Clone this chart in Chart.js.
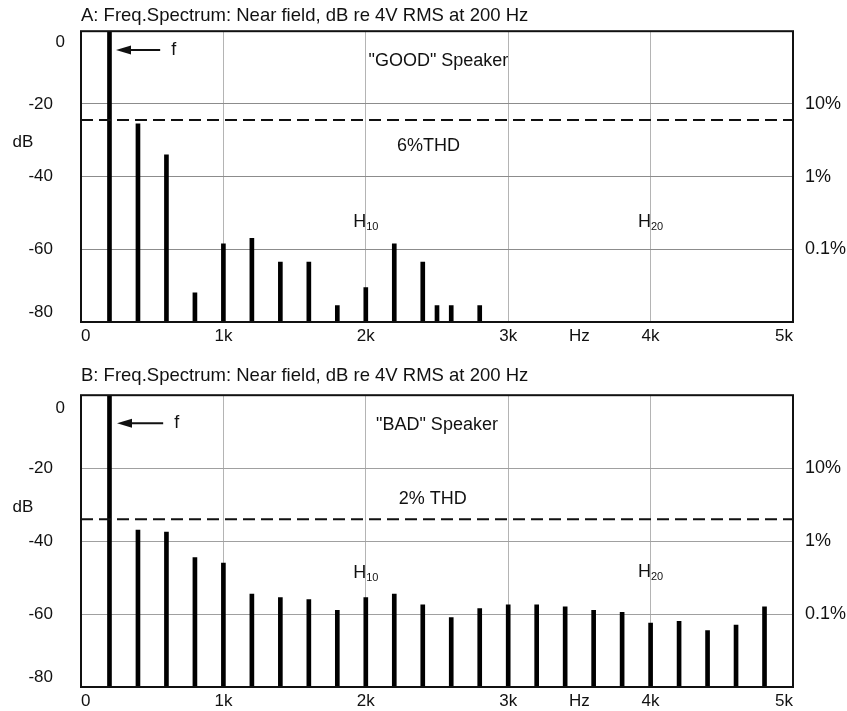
<!DOCTYPE html>
<html>
<head>
<meta charset="utf-8">
<title>Freq. Spectrum - GOOD / BAD speaker</title>
<script src="https://cdn.jsdelivr.net/npm/chart.js@4.4.1/dist/chart.umd.min.js"></script>
<style>
    body { margin: 0; background: #fff; }
    .panel { position: absolute; left: 0; width: 847px; }
    #panelA { top: 0; height: 355px; }
    #panelB { top: 355px; height: 356px; }
</style>
</head>
<body>
<div class="panel" id="panelA"><canvas id="chartA"></canvas></div>
<div class="panel" id="panelB"><canvas id="chartB"></canvas></div>
<script>
// Panel A: "GOOD" speaker, harmonics of the 200 Hz fundamental (dB)
const freqsA = [200, 400, 600, 800, 1000, 1200, 1400, 1600, 1800, 2000, 2200, 2400, 2500, 2600, 2800];
const levelsA = [0, -25.5, -34, -72, -58.5, -57, -63.5, -63.5, -75.5, -70.5, -58.5, -63.5, -75.5, -75.5, -75.5];
const thdA = -24.4; // 6% THD

// Panel B: "BAD" speaker
const freqsB = [200, 400, 600, 800, 1000, 1200, 1400, 1600, 1800, 2000, 2200, 2400,
                2600, 2800, 3000, 3200, 3400, 3600, 3800, 4000, 4200, 4400, 4600, 4800];
const levelsB = [0, -37, -37.5, -44.5, -46, -54.5, -55.5, -56, -59, -55.5, -54.5, -57.5,
                 -61, -58.5, -57.5, -57.5, -58, -59, -59.5, -62.5, -62, -64.5, -63, -58];
const thdB = -34; // 2% THD

// Axes
const xTickValues = [0, 1000, 2000, 3000, 3500, 4000, 5000];
const xTickLabels = ['0', '1k', '2k', '3k', 'Hz', '4k', '5k'];
const yTickValues = [0, -20, -40, -60, -80];
const yTickLabels = ['0', '-20', '-40', '-60', '-80'];
const pctTickValues = [-20, -40, -60];
const pctTickLabels = ['10%', '1%', '0.1%'];

const FONT = "'Liberation Sans', Arial, Helvetica, sans-serif";
const INK = '#111';
const NONE = 'rgba(0,0,0,0)';

function makePanel(canvasId, cfg) {
    // frame, left labels and the text notes
    const notes = {
        id: 'notes_' + canvasId,
        afterDatasetsDraw(chart) {
            const ctx = chart.ctx;
            const area = chart.chartArea;
            const x = chart.scales.x;
            const y = chart.scales.y;
            ctx.save();

            ctx.strokeStyle = INK;
            ctx.lineWidth = 2;
            ctx.strokeRect(area.left, area.top, area.right - area.left, area.bottom - area.top);

            ctx.fillStyle = INK;
            ctx.textBaseline = 'middle';

            // left dB labels, end ones pulled inside like the original
            ctx.font = '17px ' + FONT;
            ctx.textAlign = 'right';
            yTickValues.forEach((v, i) => {
                let py = y.getPixelForValue(v);
                let px = 53;
                if (i === 0) { py += cfg.topNudge; px = 65; }
                if (i === yTickValues.length - 1) py -= 10;
                ctx.fillText(yTickLabels[i], px, py);
            });
            ctx.textAlign = 'center';
            ctx.fillText('dB', 23, y.getPixelForValue(-30.7));

            // arrow to the fundamental
            const ay = y.getPixelForValue(cfg.arrowY);
            const tip = x.getPixelForValue(cfg.arrowTip);
            const tail = x.getPixelForValue(cfg.arrowTail);
            ctx.lineWidth = 2;
            ctx.beginPath();
            ctx.moveTo(tip + 10, ay);
            ctx.lineTo(tail, ay);
            ctx.stroke();
            ctx.beginPath();
            ctx.moveTo(tip, ay);
            ctx.lineTo(tip + 15, ay - 4.5);
            ctx.lineTo(tip + 15, ay + 4.5);
            ctx.closePath();
            ctx.fill();

            ctx.font = '18px ' + FONT;
            ctx.fillText('f', x.getPixelForValue(cfg.arrowTail + 95), ay);
            cfg.texts.forEach(t => {
                ctx.fillText(t.text, x.getPixelForValue(t.x), y.getPixelForValue(t.y));
            });

            // harmonic markers with subscripts
            cfg.harmonics.forEach(h => {
                ctx.font = '18px ' + FONT;
                const wH = ctx.measureText('H').width;
                ctx.font = '11px ' + FONT;
                const wS = ctx.measureText(h.sub).width;
                const left = x.getPixelForValue(h.x) - (wH + wS) / 2;
                const py = y.getPixelForValue(h.y);
                ctx.textAlign = 'left';
                ctx.font = '18px ' + FONT;
                ctx.fillText('H', left, py);
                ctx.font = '11px ' + FONT;
                ctx.fillText(h.sub, left + wH, py + 5);
                ctx.textAlign = 'center';
            });

            ctx.restore();
        }
    };

    return new Chart(document.getElementById(canvasId), {
        type: 'bar',
        data: {
            datasets: [
                {
                    type: 'line',
                    data: [{x: 0, y: cfg.thd}, {x: 5000, y: cfg.thd}],
                    borderColor: INK,
                    borderWidth: 2,
                    borderDash: [12, 6],
                    pointRadius: 0,
                    order: 0
                },
                {
                    type: 'bar',
                    data: cfg.freqs.map((f, i) => ({x: f, y: cfg.levels[i]})),
                    base: -80,
                    backgroundColor: '#000',
                    barThickness: 4,
                    order: 1
                }
            ]
        },
        options: {
            responsive: true,
            maintainAspectRatio: false,
            animation: false,
            events: [],
            layout: { padding: 0 },
            plugins: {
                legend: { display: false },
                tooltip: { enabled: false },
                title: {
                    display: true,
                    text: cfg.title,
                    align: 'start',
                    fullSize: false,
                    color: INK,
                    font: { family: FONT, size: 18.5, weight: 'normal' },
                    padding: cfg.titlePad
                }
            },
            scales: {
                x: {
                    type: 'linear',
                    offset: false,
                    min: 0,
                    max: 5000,
                    afterBuildTicks: s => { s.ticks = xTickValues.map(v => ({value: v})); },
                    afterFit: s => { s.height = cfg.xAxisHeight; },
                    ticks: {
                        align: 'inner',
                        maxRotation: 0,
                        autoSkip: false,
                        padding: 4,
                        color: INK,
                        font: { family: FONT, size: 17 },
                        callback: v => xTickLabels[xTickValues.indexOf(v)]
                    },
                    grid: {
                        offset: false,
                        drawTicks: false,
                        lineWidth: 1,
                        color: c => (c.tick && [1000, 2000, 3000, 4000].includes(c.tick.value) ? '#b4b4b4' : NONE)
                    },
                    border: { display: false }
                },
                y: {
                    min: -80,
                    max: 0,
                    afterBuildTicks: s => { s.ticks = yTickValues.map(v => ({value: v})); },
                    afterFit: s => { s.width = 81; },
                    ticks: { display: false },
                    grid: {
                        drawTicks: false,
                        lineWidth: 1,
                        color: c => (c.tick && [-20, -40, -60].includes(c.tick.value) ? cfg.hGrid : NONE)
                    },
                    border: { display: false }
                },
                y2: {
                    position: 'right',
                    min: -80,
                    max: 0,
                    afterBuildTicks: s => { s.ticks = pctTickValues.map(v => ({value: v})); },
                    afterFit: s => { s.width = 54; },
                    ticks: {
                        padding: 12,
                        color: INK,
                        font: { family: FONT, size: 18 },
                        callback: v => pctTickLabels[pctTickValues.indexOf(v)]
                    },
                    grid: { display: false, drawTicks: false },
                    border: { display: false }
                }
            }
        },
        plugins: [notes]
    });
}

makePanel('chartA', {
    title: 'A: Freq.Spectrum: Near field, dB re 4V RMS at 200 Hz',
    freqs: freqsA,
    levels: levelsA,
    thd: thdA,
    titlePad: { top: 5, bottom: 4 },
    xAxisHeight: 33,
    topNudge: 11,
    hGrid: '#8c8c8c',
    arrowY: -5.2,
    arrowTip: 246,
    arrowTail: 556,
    texts: [
        { text: '"GOOD" Speaker', x: 2510, y: -8.2 },
        { text: '6%THD', x: 2440, y: -31.5 }
    ],
    harmonics: [
        { sub: '10', x: 2000, y: -52.6 },
        { sub: '20', x: 4000, y: -52.6 }
    ]
});

makePanel('chartB', {
    title: 'B: Freq.Spectrum: Near field, dB re 4V RMS at 200 Hz',
    freqs: freqsB,
    levels: levelsB,
    thd: thdB,
    titlePad: { top: 10, bottom: 8 },
    xAxisHeight: 24,
    topNudge: 13,
    hGrid: '#a0a0a0',
    arrowY: -7.7,
    arrowTip: 253,
    arrowTail: 577,
    texts: [
        { text: '"BAD" Speaker', x: 2500, y: -8.2 },
        { text: '2% THD', x: 2470, y: -28.5 }
    ],
    harmonics: [
        { sub: '10', x: 2000, y: -48.8 },
        { sub: '20', x: 4000, y: -48.5 }
    ]
});
</script>
</body>
</html>
